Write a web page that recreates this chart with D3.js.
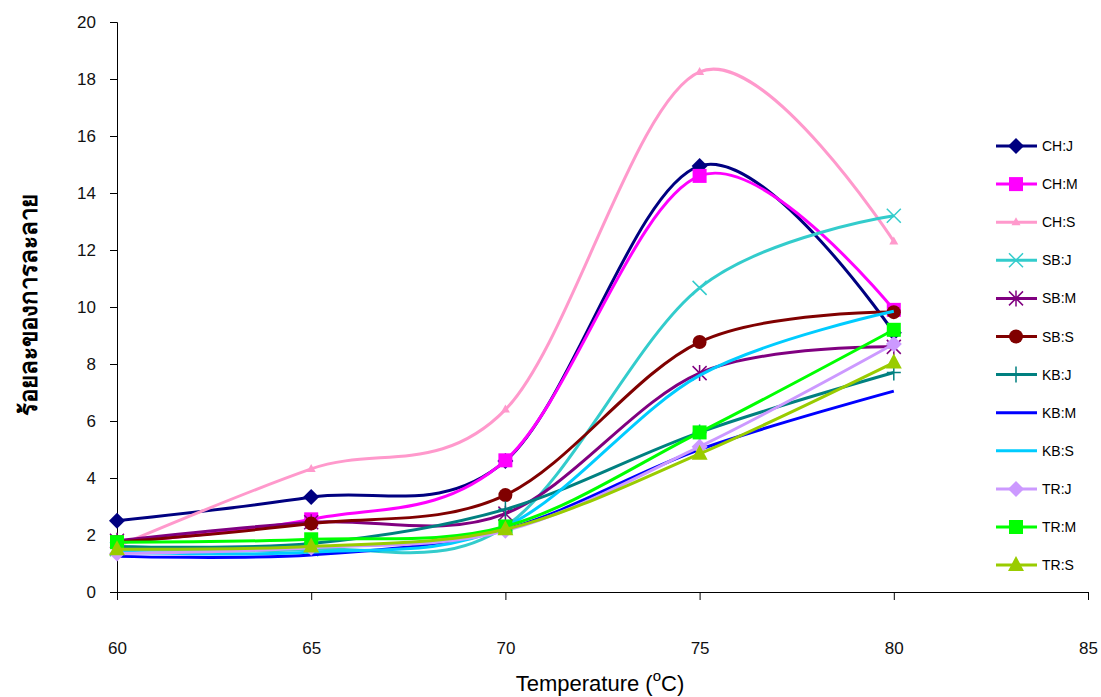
<!DOCTYPE html>
<html>
<head>
<meta charset="utf-8">
<script src="https://cdn.jsdelivr.net/npm/d3@7"></script>
<style>
  body { margin: 0; background: #fff; }
  svg { display: block; font-family: "Liberation Sans", Arial, sans-serif; }
</style>
</head>
<body>
<svg id="chart" width="1101" height="697"></svg>
<script>
// Dissolution (%) versus temperature for each sample
const temperatures = [60, 65, 70, 75, 80];
const seriesNames = ["CH:J", "CH:M", "CH:S", "SB:J", "SB:M", "SB:S", "KB:J", "KB:M", "KB:S", "TR:J", "TR:M", "TR:S"];
const chJ = [2.5, 3.33, 4.6, 14.95, 9.1];
const chM = [1.75, 2.55, 4.62, 14.6, 9.9];
const chS = [1.6, 4.32, 6.4, 18.25, 12.3];
const sbJ = [1.5, 1.5, 2.3, 10.67, 13.2];
const sbM = [1.8, 2.45, 2.75, 7.68, 8.6];
const sbS = [1.75, 2.4, 3.4, 8.77, 9.82];
const kbJ = [1.6, 1.7, 2.9, 5.6, 7.7];
const kbM = [1.25, 1.3, 2.2, 5.0, 7.05];
const kbS = [1.4, 1.4, 2.3, 7.6, 9.85];
const trJ = [1.35, 1.55, 2.15, 5.1, 8.7];
const trM = [1.75, 1.85, 2.3, 5.6, 9.2];
const trS = [1.5, 1.6, 2.2, 4.85, 8.05];
const seriesValues = [chJ, chM, chS, sbJ, sbM, sbS, kbJ, kbM, kbS, trJ, trM, trS];
const seriesColors = ["#000080", "#ff00ff", "#ff99cc", "#33cccc", "#800080", "#800000",
                      "#008080", "#0000ff", "#00ccff", "#cc99ff", "#00ff00", "#99cc00"];
const seriesMarkers = ["diamond", "square", "smalltri", "cross", "star", "circle",
                       "plus", "none", "none", "diamond", "square", "triangle"];
const xTicks = [60, 65, 70, 75, 80, 85];
const yTicks = [0, 2, 4, 6, 8, 10, 12, 14, 16, 18, 20];

const svg = d3.select("#chart");
const x = d3.scaleLinear().domain([60, 85]).range([117, 1088]);
const y = d3.scaleLinear().domain([0, 20]).range([592, 22]);

// Axes
const yAxis = svg.append("g").attr("transform", "translate(117,0)")
  .call(d3.axisLeft(y).tickValues(yTicks).tickSize(7).tickPadding(14).tickFormat(d3.format("d")));
const xAxis = svg.append("g").attr("transform", "translate(0,592)")
  .call(d3.axisBottom(x).tickValues(xTicks).tickSize(8).tickPadding(42).tickFormat(d3.format("d")));
[yAxis, xAxis].forEach(a => {
  a.select(".domain").attr("stroke", "#000").attr("stroke-width", 1);
  a.selectAll(".tick line").attr("stroke", "#000");
  a.selectAll(".tick text").attr("font-size", 17).attr("fill", "#111")
    .attr("font-family", "'Liberation Sans', Arial, sans-serif");
});

// Axis titles
svg.append("text")
  .attr("x", 600).attr("y", 691)
  .attr("text-anchor", "middle").attr("font-size", 22).attr("fill", "#000")
  .html('Temperature (<tspan dy="-10" font-size="15">o</tspan><tspan dy="10">C)</tspan>');
svg.append("text")
  .attr("transform", "translate(37,305) rotate(-90)")
  .attr("text-anchor", "middle").attr("font-size", 24).attr("font-weight", "bold")
  .attr("font-family", "'Noto Sans', 'DejaVu Sans', sans-serif").attr("fill", "#000")
  .text("ร้อยละของการละลาย");

// Marker drawing
function drawMarker(g, type, cx, cy, color) {
  const s = 7;
  switch (type) {
    case "diamond":
      g.append("path").attr("d", `M${cx},${cy - 8}L${cx + 8},${cy}L${cx},${cy + 8}L${cx - 8},${cy}Z`).attr("fill", color);
      break;
    case "square":
      g.append("rect").attr("x", cx - s).attr("y", cy - s).attr("width", 2 * s).attr("height", 2 * s).attr("fill", color);
      break;
    case "smalltri":
      g.append("path").attr("d", `M${cx},${cy - 5}L${cx + 4.5},${cy + 3}L${cx - 4.5},${cy + 3}Z`).attr("fill", color);
      break;
    case "triangle":
      g.append("path").attr("d", `M${cx},${cy - 9}L${cx + 8},${cy + 6}L${cx - 8},${cy + 6}Z`).attr("fill", color);
      break;
    case "circle":
      g.append("circle").attr("cx", cx).attr("cy", cy).attr("r", 7).attr("fill", color);
      break;
    case "cross":
      g.append("path").attr("d", `M${cx - 7},${cy - 7}L${cx + 7},${cy + 7}M${cx - 7},${cy + 7}L${cx + 7},${cy - 7}`)
        .attr("stroke", color).attr("stroke-width", 1.5);
      break;
    case "star":
      g.append("path").attr("d", `M${cx - 7},${cy - 7}L${cx + 7},${cy + 7}M${cx - 7},${cy + 7}L${cx + 7},${cy - 7}M${cx},${cy - 8}L${cx},${cy + 8}`)
        .attr("stroke", color).attr("stroke-width", 1.5);
      break;
    case "plus":
      g.append("path").attr("d", `M${cx - 7},${cy}L${cx + 7},${cy}M${cx},${cy - 8}L${cx},${cy + 8}`)
        .attr("stroke", color).attr("stroke-width", 1.5);
      break;
  }
}

// Smoothed series lines with markers
const line = d3.line().x((d, i) => x(temperatures[i])).y(d => y(d)).curve(d3.curveCardinal.tension(0));
const plot = svg.append("g");
seriesValues.forEach((vals, k) => {
  const g = plot.append("g");
  g.append("path").datum(vals).attr("d", line).attr("fill", "none")
    .attr("stroke", seriesColors[k]).attr("stroke-width", 3).attr("stroke-linejoin", "round");
  vals.forEach((v, i) => drawMarker(g, seriesMarkers[k], x(temperatures[i]), y(v), seriesColors[k]));
});

// Legend
const legend = svg.append("g");
seriesNames.forEach((name, k) => {
  const ly = 146 + k * 38.1;
  const g = legend.append("g");
  g.append("line").attr("x1", 996).attr("x2", 1037).attr("y1", ly).attr("y2", ly)
    .attr("stroke", seriesColors[k]).attr("stroke-width", 3);
  drawMarker(g, seriesMarkers[k], 1016, ly, seriesColors[k]);
  g.append("text").attr("x", 1042).attr("y", ly + 5).attr("font-size", 14).attr("fill", "#000").text(name);
});
</script>
</body>
</html>
